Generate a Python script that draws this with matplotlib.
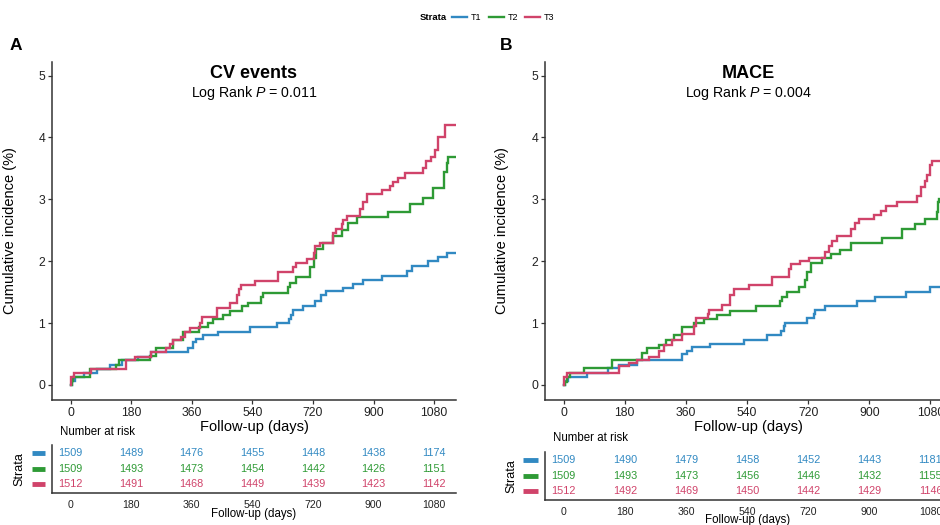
import matplotlib
matplotlib.use("Agg")
import matplotlib.pyplot as plt
import matplotlib.transforms as mtransforms

plt.rcParams['font.family'] = ['Liberation Sans', 'DejaVu Sans']
plt.rcParams['mathtext.fontset'] = 'custom'
plt.rcParams['mathtext.rm'] = 'Liberation Sans'
plt.rcParams['mathtext.it'] = 'Liberation Sans:italic'

# ---------------- data ----------------
strata = ["T1", "T2", "T3"]
colors = ["#3189C2", "#2E9A35", "#D0436A"]
ticks_days = [0, 180, 360, 540, 720, 900, 1080]
followup_end = 1143

# Panel A: CV events (day, cumulative incidence %)
a_t1_days = [0, 3, 12, 40, 80, 117, 152, 200, 240, 349, 364, 374, 394, 439, 533, 612, 649, 654, 661, 691, 726, 745, 760, 810, 839, 869, 924, 998, 1013, 1062, 1092, 1117]
a_t1_vals = [0, 0.07, 0.13, 0.2, 0.26, 0.33, 0.4, 0.46, 0.53, 0.6, 0.7, 0.75, 0.8, 0.86, 0.93, 1.0, 1.07, 1.13, 1.22, 1.28, 1.35, 1.45, 1.52, 1.57, 1.63, 1.7, 1.76, 1.85, 1.93, 2.0, 2.07, 2.13]
a_t2_days = [0, 3, 8, 57, 135, 145, 236, 255, 305, 335, 383, 408, 423, 453, 473, 508, 528, 567, 573, 645, 651, 670, 711, 723, 730, 750, 780, 805, 825, 850, 943, 1008, 1047, 1077, 1110, 1117, 1122]
a_t2_vals = [0, 0.07, 0.13, 0.26, 0.33, 0.4, 0.47, 0.6, 0.72, 0.85, 0.93, 1.0, 1.07, 1.13, 1.2, 1.27, 1.33, 1.42, 1.48, 1.58, 1.65, 1.75, 1.9, 2.05, 2.2, 2.3, 2.4, 2.5, 2.62, 2.72, 2.8, 2.93, 3.02, 3.18, 3.45, 3.58, 3.68]
a_t3_days = [0, 2, 10, 62, 165, 191, 240, 285, 295, 305, 328, 340, 355, 385, 390, 435, 474, 495, 500, 505, 548, 617, 661, 670, 701, 722, 726, 740, 780, 790, 805, 810, 820, 860, 870, 880, 925, 948, 958, 973, 993, 1047, 1057, 1072, 1082, 1092, 1112]
a_t3_vals = [0, 0.13, 0.2, 0.26, 0.4, 0.46, 0.53, 0.6, 0.66, 0.72, 0.78, 0.85, 0.92, 1.0, 1.1, 1.25, 1.33, 1.45, 1.55, 1.62, 1.68, 1.82, 1.9, 1.97, 2.04, 2.13, 2.25, 2.3, 2.45, 2.52, 2.6, 2.66, 2.73, 2.85, 2.95, 3.08, 3.15, 3.22, 3.28, 3.35, 3.42, 3.5, 3.62, 3.68, 3.8, 4.0, 4.2]

# Panel B: MACE
b_t1_days = [0, 3, 12, 70, 130, 162, 216, 349, 363, 378, 432, 530, 599, 641, 648, 653, 717, 737, 741, 771, 864, 918, 1007, 1080]
b_t1_vals = [0, 0.07, 0.13, 0.2, 0.27, 0.33, 0.4, 0.5, 0.55, 0.62, 0.67, 0.72, 0.8, 0.88, 0.95, 1.0, 1.08, 1.15, 1.22, 1.28, 1.35, 1.42, 1.5, 1.58]
b_t2_days = [0, 3, 10, 20, 59, 142, 231, 245, 280, 300, 324, 349, 383, 412, 452, 491, 565, 636, 643, 658, 692, 712, 717, 727, 761, 786, 815, 845, 938, 997, 1036, 1065, 1098, 1102, 1105]
b_t2_vals = [0, 0.05, 0.13, 0.2, 0.27, 0.4, 0.52, 0.6, 0.65, 0.72, 0.8, 0.93, 1.0, 1.07, 1.13, 1.2, 1.27, 1.35, 1.43, 1.5, 1.58, 1.7, 1.82, 1.97, 2.05, 2.12, 2.18, 2.3, 2.37, 2.52, 2.6, 2.68, 2.8, 2.95, 3.0]
b_t3_days = [0, 2, 10, 162, 191, 216, 250, 280, 295, 319, 349, 383, 390, 424, 427, 466, 491, 501, 545, 614, 663, 668, 697, 722, 771, 781, 791, 805, 845, 859, 869, 913, 933, 948, 982, 1041, 1051, 1065, 1070, 1080, 1085]
b_t3_vals = [0, 0.13, 0.2, 0.3, 0.35, 0.4, 0.45, 0.55, 0.65, 0.72, 0.82, 0.95, 1.08, 1.15, 1.22, 1.3, 1.45, 1.55, 1.62, 1.75, 1.88, 1.95, 2.0, 2.05, 2.15, 2.25, 2.32, 2.4, 2.52, 2.62, 2.68, 2.75, 2.82, 2.9, 2.95, 3.05, 3.2, 3.3, 3.4, 3.55, 3.62]

# Number at risk
a_risk_t1 = [1509, 1489, 1476, 1455, 1448, 1438, 1174]
a_risk_t2 = [1509, 1493, 1473, 1454, 1442, 1426, 1151]
a_risk_t3 = [1512, 1491, 1468, 1449, 1439, 1423, 1142]
b_risk_t1 = [1509, 1490, 1479, 1458, 1452, 1443, 1181]
b_risk_t2 = [1509, 1493, 1473, 1456, 1446, 1432, 1155]
b_risk_t3 = [1512, 1492, 1469, 1450, 1442, 1429, 1146]

titles = ["CV events", "MACE"]
pvals = ["0.011", "0.004"]
panel_letters = ["A", "B"]

# ---------------- figure ----------------
W, H = 940, 525
fig = plt.figure(figsize=(W / 100, H / 100), dpi=100)

def fx(px):
    return px / W

def fy(py):
    return 1 - py / H

def rect(l, r, t, b):
    return [fx(l), fy(b), fx(r) - fx(l), fy(t) - fy(b)]

XLIM = (-55, 1145)
spine_c = "#333333"

panels = [
    dict(main=rect(52, 456, 62, 400), risk=rect(52, 456, 445, 493),
         curves=[(a_t1_days, a_t1_vals), (a_t2_days, a_t2_vals), (a_t3_days, a_t3_vals)],
         risk_vals=[a_risk_t1, a_risk_t2, a_risk_t3],
         ylab_x=17, letter_x=16, nar_x=60, nar_y=432, patch_x=(32, 45), strata_x=19,
         risk_xlab_x=254, risk_xlab_y=514),
    dict(main=rect(545, 952.5, 62, 400), risk=rect(545, 952.5, 452, 500),
         curves=[(b_t1_days, b_t1_vals), (b_t2_days, b_t2_vals), (b_t3_days, b_t3_vals)],
         risk_vals=[b_risk_t1, b_risk_t2, b_risk_t3],
         ylab_x=509, letter_x=506, nar_x=553, nar_y=438, patch_x=(523, 538), strata_x=511,
         risk_xlab_x=748, risk_xlab_y=520),
]

for i, p in enumerate(panels):
    ax = fig.add_axes(p["main"])
    for (d, v), c in zip(p["curves"], colors):
        ax.plot(list(d) + [followup_end], list(v) + [v[-1]], drawstyle="steps-post",
                color=c, lw=1.7, solid_joinstyle="miter")
    ax.set_xlim(*XLIM)
    ax.set_ylim(-0.2425, 5.22)
    ax.set_xticks(ticks_days)
    ax.set_yticks([0, 1, 2, 3, 4, 5])
    for s in ["top", "right"]:
        ax.spines[s].set_visible(False)
    for s in ["left", "bottom"]:
        ax.spines[s].set_linewidth(1.1)
        ax.spines[s].set_color(spine_c)
    ax.tick_params(axis="both", direction="out", length=3, width=0.9, color=spine_c,
                   labelsize=8.8, labelcolor="#222222", pad=2)
    ax.set_xlabel("Follow-up (days)", fontsize=10.5, labelpad=1)
    ax.set_ylabel("Cumulative incidence (%)", fontsize=10.5)
    ax.yaxis.set_label_coords((p["ylab_x"] - p["main"][0] * W) / (p["main"][2] * W), 0.5)
    bt = mtransforms.blended_transform_factory(ax.transAxes, fig.transFigure)
    ax.text(0.5, fy(74), titles[i], transform=bt,
            ha="center", va="center", fontsize=13, fontweight="bold")
    ax.text(0.5, fy(93), "Log Rank $\\it{P}$ = " + pvals[i], transform=bt,
            ha="center", va="center", fontsize=10.2)
    fig.text(fx(p["letter_x"]), fy(45), panel_letters[i], ha="center", va="center",
             fontsize=12.5, fontweight="bold")

    # risk table
    rx = fig.add_axes(p["risk"])
    rx.set_xlim(*XLIM)
    rx.set_ylim(0.42, 3.52)
    rx.set_xticks(ticks_days)
    rx.set_yticks([])
    for s in ["top", "right"]:
        rx.spines[s].set_visible(False)
    for s in ["left", "bottom"]:
        rx.spines[s].set_linewidth(1.1)
        rx.spines[s].set_color(spine_c)
    rx.tick_params(axis="x", length=0, labelsize=7.6, labelcolor="#222222", pad=5)
    for row, (vals, c) in enumerate(zip(p["risk_vals"], colors)):
        yv = 3 - row
        for t, n in zip(ticks_days, vals):
            rx.text(t, yv, str(n), ha="center", va="center", fontsize=7.8, color=c)
        trans = mtransforms.blended_transform_factory(fig.transFigure, rx.transData)
        rx.plot([fx(p["patch_x"][0]), fx(p["patch_x"][1])], [yv, yv], transform=trans,
                color=c, lw=3.5, solid_capstyle="butt", clip_on=False)
    fig.text(fx(p["strata_x"]), (p["risk"][1] + p["risk"][3] / 2), "Strata", rotation=90,
             ha="center", va="center", fontsize=9)
    fig.text(fx(p["nar_x"]), fy(p["nar_y"]), "Number at risk", ha="left", va="center", fontsize=8.3)
    fig.text(fx(p["risk_xlab_x"]), fy(p["risk_xlab_y"]),
             "Follow-up (days)", ha="center", va="center", fontsize=8.3)

# top legend
ly = fy(17)
fig.text(fx(447), ly, "Strata", ha="right", va="center", fontsize=6.8, fontweight="bold")
lx = [452, 489, 525]
for c, name, x0 in zip(colors, strata, lx):
    fig.add_artist(plt.Line2D([fx(x0), fx(x0 + 15)], [ly, ly], color=c, lw=1.7, transform=fig.transFigure))
    fig.text(fx(x0 + 19), ly, name, ha="left", va="center", fontsize=6.5)

fig.savefig("out.png", dpi=100)
